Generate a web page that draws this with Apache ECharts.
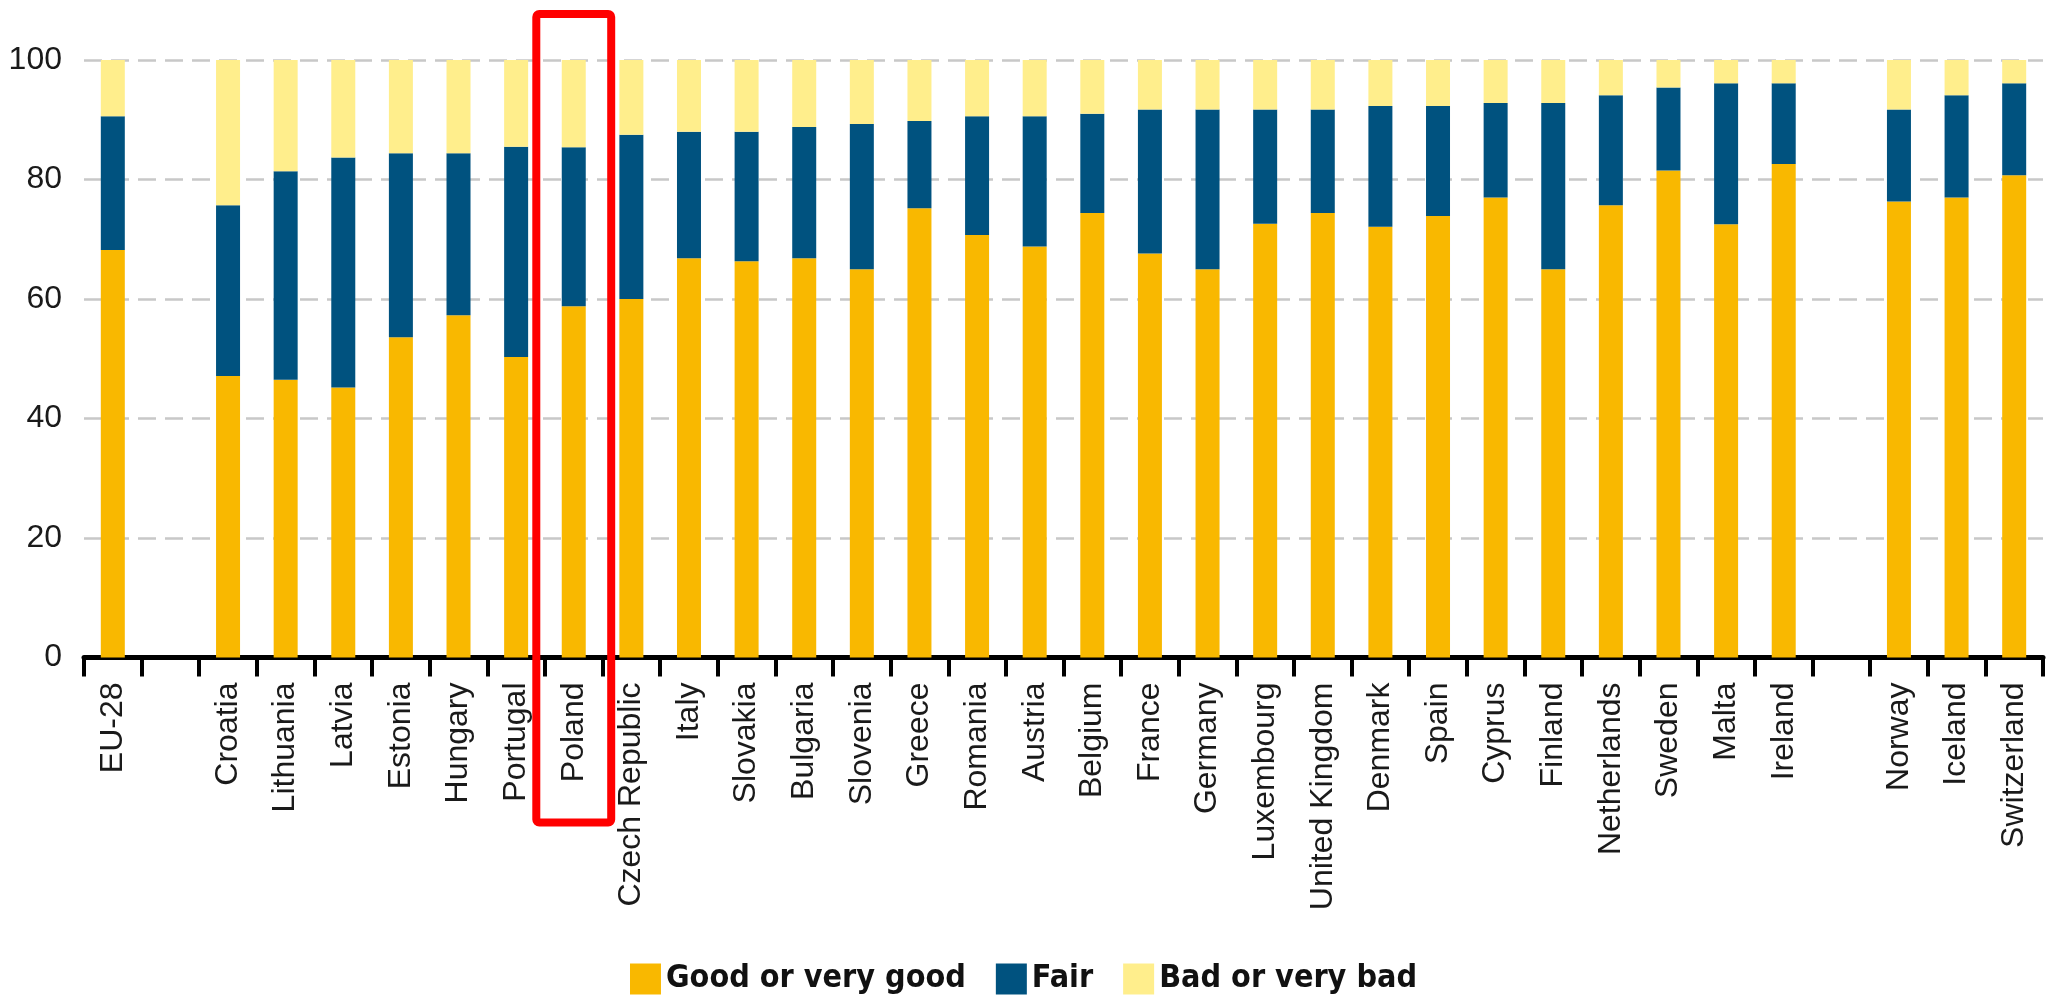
<!DOCTYPE html>
<html>
<head>
<meta charset="utf-8">
<script src="https://cdn.jsdelivr.net/npm/echarts@6/dist/echarts.min.js"></script>
<style>
  html, body { margin: 0; padding: 0; background: #ffffff; }
  #chart { width: 2047px; height: 995px; }
</style>
</head>
<body>
<div id="chart"></div>
<script>
const categories = ['EU-28', '', 'Croatia', 'Lithuania', 'Latvia', 'Estonia', 'Hungary', 'Portugal', 'Poland',
  'Czech Republic', 'Italy', 'Slovakia', 'Bulgaria', 'Slovenia', 'Greece', 'Romania', 'Austria', 'Belgium',
  'France', 'Germany', 'Luxembourg', 'United Kingdom', 'Denmark', 'Spain', 'Cyprus', 'Finland', 'Netherlands',
  'Sweden', 'Malta', 'Ireland', ' ', 'Norway', 'Iceland', 'Switzerland'];

const goodValues = [68.2, null, 47.1, 46.5, 45.2, 53.6, 57.3, 50.3, 58.8,
  60.0, 66.8, 66.3, 66.8, 65.0, 75.2, 70.7, 68.8, 74.4,
  67.6, 65.0, 72.6, 74.4, 72.1, 73.9, 77.0, 65.0, 75.7,
  81.5, 72.5, 82.6, null, 76.3, 77.0, 80.7];

const fairValues = [22.4, null, 28.6, 34.9, 38.5, 30.8, 27.1, 35.2, 26.6,
  27.5, 21.2, 21.7, 22.0, 24.3, 14.6, 19.9, 21.8, 16.6,
  24.1, 26.7, 19.1, 17.3, 20.2, 18.4, 15.8, 27.8, 18.4,
  13.9, 23.6, 13.5, null, 15.4, 17.1, 15.4];

const badValues = [9.4, null, 24.3, 18.6, 16.3, 15.6, 15.6, 14.5, 14.6,
  12.5, 12.0, 12.0, 11.2, 10.7, 10.2, 9.4, 9.4, 9.0,
  8.3, 8.3, 8.3, 8.3, 7.7, 7.7, 7.2, 7.2, 5.9,
  4.6, 3.9, 3.9, null, 8.3, 5.9, 3.9];

const yTicks = [0, 20, 40, 60, 80, 100];
const seriesNames = ['Good or very good', 'Fair', 'Bad or very bad'];
const seriesColors = ['#F9B800', '#00527F', '#FFEE8C'];
const highlighted = 'Poland';

const labelFont = '"Liberation Sans", Arial, sans-serif';
const legendFont = '"Liberation Sans Narrow", "DejaVu Sans Condensed", "Liberation Sans", sans-serif';

const chart = echarts.init(document.getElementById('chart'));

function makeSeries(name, data, color) {
  return {
    name: name,
    type: 'bar',
    stack: 'total',
    data: data,
    barWidth: 24,
    itemStyle: { color: color },
    emphasis: { disabled: true }
  };
}

chart.setOption({
  animation: false,
  backgroundColor: '#ffffff',
  grid: { left: 84, right: 4, top: 60, bottom: 337.5, containLabel: false },
  legend: {
    data: seriesNames,
    left: 'center',
    top: 958,
    icon: 'rect',
    itemWidth: 31,
    itemHeight: 31,
    itemGap: 30,
    textStyle: { fontFamily: legendFont, fontWeight: 'bold', fontSize: 32, color: '#111111' }
  },
  xAxis: {
    type: 'category',
    data: categories,
    boundaryGap: true,
    axisLine: { show: true, lineStyle: { color: '#000000', width: 5 } },
    axisTick: { show: true, alignWithLabel: false, interval: 0, length: 19, lineStyle: { color: '#000000', width: 4 } },
    axisLabel: {
      interval: 0,
      rotate: 90,
      margin: 25,
      fontFamily: labelFont,
      fontSize: 32,
      color: '#1a1a1a'
    },
    splitLine: { show: false }
  },
  yAxis: {
    type: 'value',
    min: yTicks[0],
    max: yTicks[yTicks.length - 1],
    interval: yTicks[1] - yTicks[0],
    axisLine: { show: false },
    axisTick: { show: false },
    axisLabel: { margin: 22, fontFamily: labelFont, fontSize: 32, color: '#1a1a1a' },
    splitLine: { show: true, lineStyle: { color: '#c8c8c8', width: 2.5, type: [18, 9] } }
  },
  series: [
    makeSeries(seriesNames[0], goodValues, seriesColors[0]),
    makeSeries(seriesNames[1], fairValues, seriesColors[1]),
    makeSeries(seriesNames[2], badValues, seriesColors[2])
  ]
});

// Highlight frame around the selected category, positioned from the axes
const cx = chart.convertToPixel({ xAxisIndex: 0 }, highlighted);
const nextX = chart.convertToPixel({ xAxisIndex: 0 }, categories[categories.indexOf(highlighted) + 1]);
const band = nextX - cx;
const yTop = chart.convertToPixel({ yAxisIndex: 0 }, 100);
const yZero = chart.convertToPixel({ yAxisIndex: 0 }, 0);
const frameW = band * 1.3;

chart.setOption({
  graphic: [{
    type: 'rect',
    z: 100,
    shape: { x: cx - frameW / 2, y: yTop - 46, width: frameW, height: (yZero + 165) - (yTop - 46), r: 3 },
    style: { fill: 'none', stroke: '#ff0000', lineWidth: 8 }
  }]
});
</script>
</body>
</html>
